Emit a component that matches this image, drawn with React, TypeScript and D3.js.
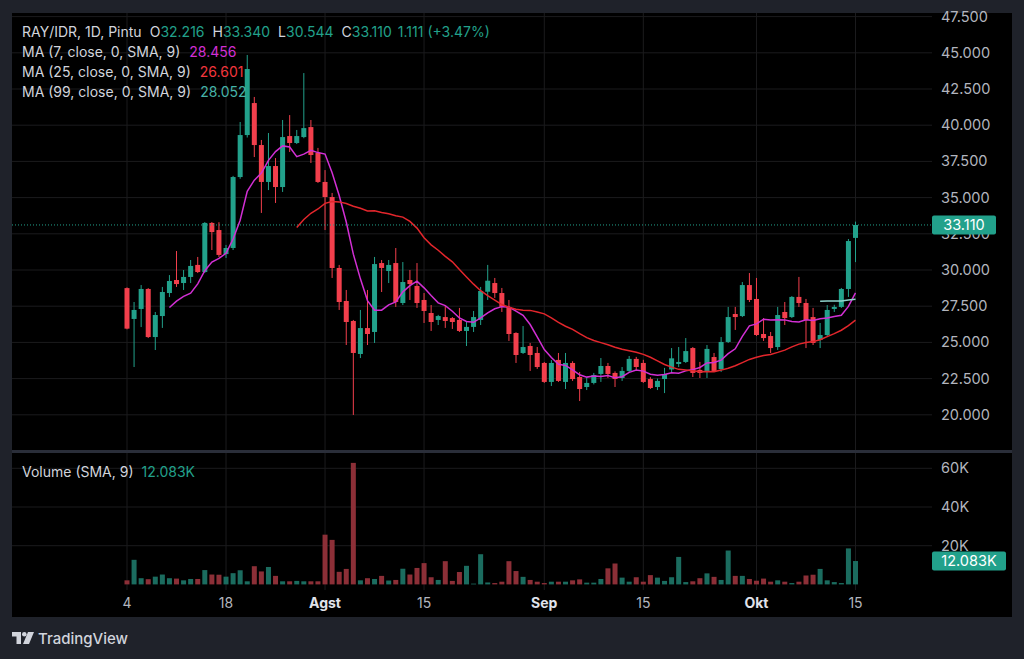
import React from "react";
import * as d3 from "d3";

// ---- Data ----
const startDay = new Date(2024, 6, 4);
const endDay = new Date(2024, 9, 15);
const days = d3.timeDay.range(startDay, d3.timeDay.offset(endDay, 1));

const opens = [28750,26620,27310,28690,25370,26820,28410,29310,29100,29520,30350,29860,33250,32760,31100,31520,36420,39320,41530,38630,36080,37180,35730,39250,38770,39180,39870,38080,36080,35040,30140,27860,26480,24200,25990,25720,30480,29930,30480,27720,29310,28900,27930,27030,26550,26750,26680,26550,25790,26070,26550,28500,29100,28410,27450,25650,24270,24750,24270,23580,22270,23790,22270,23580,22610,21920,22200,22820,23370,22890,22540,23030,23860,23580,22470,21920,22470,23130,23510,23650,24610,23100,23030,23990,23160,25030,26960,26820,28960,28000,25580,25440,24680,27100,26750,28140,27720,26750,25170,25510,27310,27450,28690,32216];
const highs = [28800,27790,28960,28750,27100,28830,29650,31310,30000,30690,30900,33310,33310,33300,31730,36500,40220,44850,41950,38980,39460,37730,40360,40700,39670,43600,40360,38430,36900,35320,30350,28620,26550,27240,28620,30900,30690,30690,31520,30550,30000,30480,28410,27580,26900,27510,26750,27380,26410,27170,28830,30350,29450,28760,27930,25700,26130,24960,24680,23650,23780,24270,24270,23700,22960,22540,22890,23920,23580,23000,23300,24060,24000,23800,22600,22500,23240,24610,24680,25300,24680,23650,24820,24270,25370,27450,27450,29170,29790,29450,26680,25720,27450,27790,28200,29520,28000,27380,26340,27580,27600,28760,32140,33340];
const lows = [25900,23300,26060,25300,24475,26000,28130,28830,28620,29100,29790,29790,31380,30900,30830,31380,36300,39150,37800,33940,35520,34630,35390,38150,38700,39100,37390,36010,32760,29450,27240,24820,19990,23920,24820,24960,28480,29100,27450,27580,27930,27380,26340,25790,26200,26000,25930,25720,24750,25720,26200,27930,28070,27100,25100,23580,24200,23030,23170,22200,21990,22270,21780,22340,20950,21710,22100,22270,22540,21920,22340,22890,23100,22200,21780,21710,21500,22890,23300,23580,22610,22540,22540,23030,22960,24960,25860,26750,27790,25440,25100,24270,24480,26200,26680,27450,24610,24820,24610,25440,27100,27380,28140,30544];
const closes = [25950,27240,28690,25370,26890,28480,29240,29030,29520,30280,29860,33250,32620,31040,31520,36420,39320,43880,38630,36080,37180,35730,39180,38770,39250,39800,37940,36080,35040,30140,27790,26410,24270,25990,25580,30410,30140,30350,27790,29170,29030,27720,27170,26410,26820,26480,26410,25790,26070,26750,28550,29260,28410,27450,25580,24130,24680,24130,23300,22270,23580,22340,23580,22470,21780,22200,22750,23370,22820,22470,23030,23860,23300,22270,21850,22340,22820,23900,23650,24400,22890,22890,24550,23030,25030,26750,26750,28960,27930,25510,25300,24610,26890,26680,28140,27720,26550,24960,25510,27240,27450,28690,32000,33110];
const volumesK = [2.1,12.7,3.2,2.7,4.0,5.1,3.2,3.0,2.1,2.8,2.8,7.4,5.1,5.0,4.0,5.8,7.3,1.6,9.4,6.7,9.0,4.4,1.6,1.6,1.8,1.6,1.6,1.6,25.7,23.0,6.5,8.0,62.8,2.1,3.2,2.8,4.4,2.0,2.3,8.1,5.1,8.5,11.0,3.7,2.3,12.0,1.8,6.4,9.6,0.4,15.6,1.0,0.7,1.4,12.0,6.9,3.9,2.3,1.4,0.7,1.4,1.4,1.4,2.1,2.6,0.9,0.9,2.8,8.3,10.8,3.5,1.4,3.7,1.4,4.8,3.5,1.8,3.7,14.2,1.2,1.6,3.2,5.7,3.9,2.3,17.5,4.4,4.4,2.8,1.9,3.0,1.4,2.1,1.4,0.7,1.4,4.6,5.0,8.0,2.1,1.2,0.7,18.6,12.083];

const priceTicks = [20000,22500,25000,27500,30000,32500,35000,37500,40000,42500,45000,47500];
const volumeTicks = [20000,40000,60000];
const volumeTickLabels = ["20K","40K","60K"];
const timeTicks = [new Date(2024,6,4),new Date(2024,6,18),new Date(2024,7,1),new Date(2024,7,15),new Date(2024,8,1),new Date(2024,8,15),new Date(2024,9,1),new Date(2024,9,15)];
const timeTickLabels = ["4","18","Agst","15","Sep","15","Okt","15"];
const timeTickMonth = [false,false,true,false,true,false,true,false];

const maPeriods = [7,25,99];
const maColors = ["#d22fd4","#e3262c","#8fd5cd"];
const maLegendColors = ["#d22fd4","#f2363d","#46b3a8"];
const maLegendValues = ["28.456","26.601","28.052"];

const lastPrice = "33.110";
const lastVolumeLabel = "12.083K";
const ohlcLabels = ["32.216","33.340","30.544","33.110"];

// ---- Styles ----
const FONT = "Inter, 'Noto Sans', Roboto, sans-serif";
const UP = "#22a18b";
const DOWN = "#f23f4c";
const VUP = "#1b6c5f";
const VDOWN = "#8c2f37";
const GRID = "#1b1b1d";
const TXT = "#b2b5be";
const LEG = "#d1d4dc";

export default function App() {
  const x = d3.scaleTime().domain([startDay, endDay]).range([127, 855.5]);
  const y = d3.scaleLinear().domain([20000, 47500]).range([414.8, 16.6]);
  const yv = d3.scaleLinear().domain([0, 60000]).range([584.4, 468.3]);
  const fmt = d3.formatLocale({ decimal: ",", thousands: ".", grouping: [3], currency: ["Rp", ""] }).format(",");

  const plotL = 12, plotR = 932;
  const bw = 5;

  const sma = (n: number) =>
    closes.map((_, i) => (i < n - 1 ? null : (d3.mean(closes.slice(i - n + 1, i + 1)) as number)));
  const line = d3
    .line<number | null>()
    .defined((d) => d != null)
    .x((_, i) => x(days[i]))
    .y((d) => y(d as number));

  return (
    <svg width={1024} height={659} style={{ position: "absolute", left: 0, top: 0, display: "block" }} fontFamily={FONT}>
      <rect x={0} y={0} width={1024} height={659} fill="#1f222a" />
      <rect x={12} y={13} width={1000} height={437} fill="#000" />
      <rect x={12} y={450} width={1000} height={3} fill="#2a2e39" />
      <rect x={12} y={453} width={1000} height={164} fill="#000" />

      {/* grid */}
      {priceTicks.map((t) => (
        <line key={"hp" + t} x1={plotL} x2={plotR} y1={y(t)} y2={y(t)} stroke={GRID} />
      ))}
      {volumeTicks.map((t) => (
        <line key={"hv" + t} x1={plotL} x2={plotR} y1={yv(t)} y2={yv(t)} stroke={GRID} />
      ))}
      {timeTicks.map((t, i) => (
        <g key={"vg" + i}>
          <line x1={x(t)} x2={x(t)} y1={13} y2={450} stroke={GRID} />
          <line x1={x(t)} x2={x(t)} y1={453} y2={590} stroke={GRID} />
        </g>
      ))}

      {/* candles */}
      {days.map((d, i) => {
        const up = closes[i] >= opens[i];
        const c = up ? UP : DOWN;
        const cx = x(d);
        const top = y(Math.max(opens[i], closes[i]));
        const bot = y(Math.min(opens[i], closes[i]));
        return (
          <g key={"c" + i}>
            <line x1={cx} x2={cx} y1={y(highs[i])} y2={y(lows[i])} stroke={c} strokeWidth={1} />
            <rect x={cx - bw / 2} y={top} width={bw} height={Math.max(1, bot - top)} fill={c} />
          </g>
        );
      })}

      {/* moving averages */}
      {maPeriods.map((p, k) => (
        <path key={"ma" + p} d={line(sma(p)) || ""} fill="none" stroke={maColors[k]} strokeWidth={1.5} />
      ))}

      {/* last price line */}
      <line x1={plotL} x2={plotR} y1={y(33110)} y2={y(33110)} stroke={UP} strokeDasharray="1,2" />

      {/* volume */}
      {days.map((d, i) => {
        const up = closes[i] >= opens[i];
        const v = volumesK[i] * 1000;
        return (
          <rect key={"v" + i} x={x(d) - bw / 2} y={yv(v)} width={bw} height={yv(0) - yv(v)} fill={up ? VUP : VDOWN} />
        );
      })}

      {/* price axis */}
      {priceTicks.map((t) => (
        <text key={"pt" + t} x={941} y={y(t) + 5} fill={TXT} fontSize={14.5}>
          {fmt(t)}
        </text>
      ))}
      <rect x={932} y={y(33110) - 9.5} width={64} height={19} rx={2} fill={UP} />
      <text x={964} y={y(33110) + 5} fill="#fff" fontSize={14.5} textAnchor="middle">
        {lastPrice}
      </text>

      {/* volume axis */}
      {volumeTicks.map((t, i) => (
        <text key={"vt" + t} x={941} y={yv(t) + 5} fill={TXT} fontSize={14.5}>
          {volumeTickLabels[i]}
        </text>
      ))}
      <rect x={932} y={yv(12083) - 9.5} width={74} height={19} rx={2} fill={UP} />
      <text x={969} y={yv(12083) + 5} fill="#fff" fontSize={14.5} textAnchor="middle">
        {lastVolumeLabel}
      </text>

      {/* time axis */}
      {timeTicks.map((t, i) => (
        <text
          key={"tt" + i}
          x={x(t)}
          y={608}
          fill={timeTickMonth[i] ? "#e0e3eb" : TXT}
          fontWeight={timeTickMonth[i] ? 700 : 400}
          fontSize={14}
          textAnchor="middle"
        >
          {timeTickLabels[i]}
        </text>
      ))}

      {/* legend */}
      <text x={22} y={37} fontSize={14} fill={LEG}>
        RAY/IDR, 1D, Pintu
        <tspan dx={8}>O</tspan>
        <tspan fill={UP}>{ohlcLabels[0]}</tspan>
        <tspan dx={8}>H</tspan>
        <tspan fill={UP}>{ohlcLabels[1]}</tspan>
        <tspan dx={8}>L</tspan>
        <tspan fill={UP}>{ohlcLabels[2]}</tspan>
        <tspan dx={8}>C</tspan>
        <tspan fill={UP}>{ohlcLabels[3]}</tspan>
        <tspan dx={6} fill={UP}>1.111 (+3.47%)</tspan>
      </text>
      {maPeriods.map((p, k) => (
        <text key={"lg" + p} x={22} y={56.5 + k * 20} fontSize={14} fill={LEG}>
          {`MA (${p}, close, 0, SMA, 9)`}
          <tspan dx={9} fill={maLegendColors[k]}>{maLegendValues[k]}</tspan>
        </text>
      ))}
      <text x={22} y={477} fontSize={14} fill={LEG}>
        Volume (SMA, 9)
        <tspan dx={8} fill={UP}>{lastVolumeLabel}</tspan>
      </text>

      {/* TradingView logo */}
      <g fill="#d1d4dc">
        <path d="M12 632 h9 v12 h-4.5 v-7.5 h-4.5 z" />
        <circle cx={24.3} cy={634.3} r={2.3} />
        <path d="M28 632 h6 l-5 12 h-6 z" />
      </g>
      <text x={38} y={644} fontSize={15} fill="#d1d4dc" fontWeight={500}>
        TradingView
      </text>
    </svg>
  );
}
